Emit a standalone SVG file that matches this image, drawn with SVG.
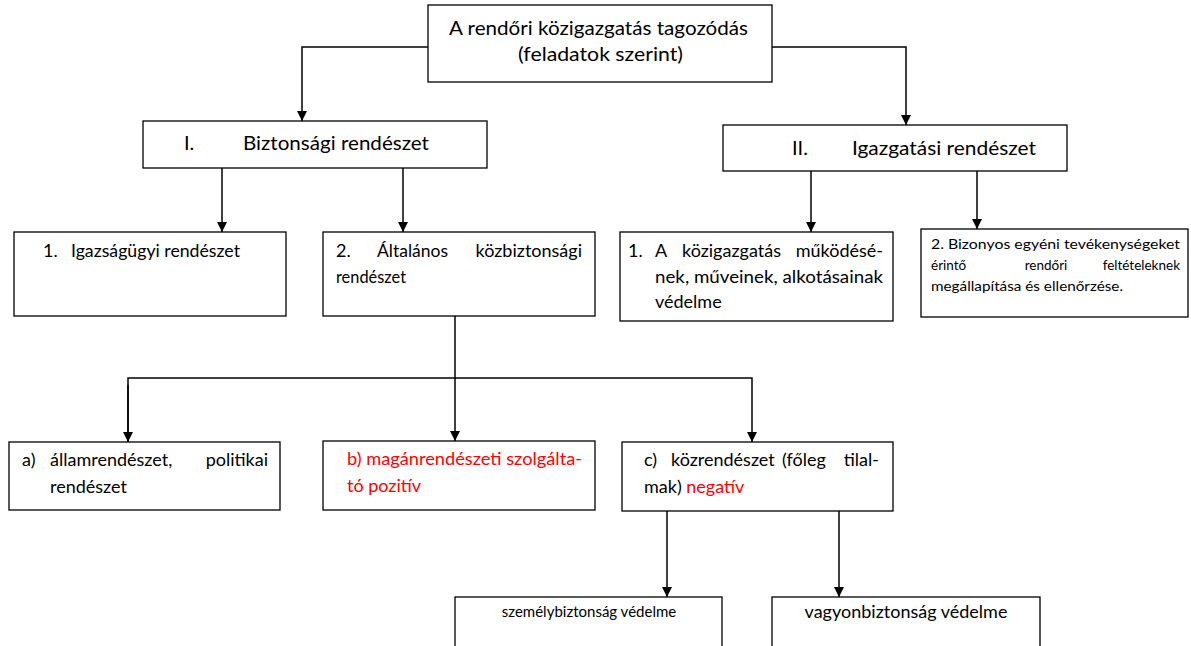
<svg xmlns="http://www.w3.org/2000/svg" width="1191" height="646" viewBox="0 0 1191 646">
<style>
.box{fill:#fff;stroke:#000;stroke-width:1.3}
.t{font-family:Lato,"Open Sans","Liberation Sans",sans-serif;font-size:18px;fill:#000}
.h{font-size:20px}
.s{font-size:13.5px}
.r{fill:#ff0000}
.c{fill:none;stroke:#000;stroke-width:1.5}
</style>
<defs>
<marker id="ah" viewBox="0 0 10 10" refX="10" refY="5" markerWidth="10" markerHeight="10" markerUnits="userSpaceOnUse" orient="auto">
<path d="M0,0 L10,5 L0,10 z" fill="#000"/>
</marker>
</defs>
<rect width="1191" height="646" fill="#fff"/>
<g id="connectors">
<path class="c" d="M428,47 H302 V121" marker-end="url(#ah)"/>
<path class="c" d="M772,47 H906 V125" marker-end="url(#ah)"/>
<path class="c" d="M222,168 V232" marker-end="url(#ah)"/>
<path class="c" d="M403,168 V232" marker-end="url(#ah)"/>
<path class="c" d="M811,171 V232" marker-end="url(#ah)"/>
<path class="c" d="M977,171 V229" marker-end="url(#ah)"/>
<path class="c" d="M455,316 V441" marker-end="url(#ah)"/>
<path class="c" d="M128,442 V378 H752 V442" marker-end="url(#ah)"/>
<path class="c" d="M128,385 V442" marker-end="url(#ah)"/>
<path class="c" d="M667,511 V597" marker-end="url(#ah)"/>
<path class="c" d="M839,511 V597" marker-end="url(#ah)"/>
</g>
<g id="root">
<rect class="box" x="428" y="5" width="344" height="77"/>
<text class="t h" x="449" y="35" textLength="299" lengthAdjust="spacingAndGlyphs">A rendőri közigazgatás tagozódás</text>
<text class="t h" x="518" y="61" textLength="165" lengthAdjust="spacingAndGlyphs">(feladatok szerint)</text>
</g>
<g id="n-biztonsagi">
<rect class="box" x="143" y="121" width="344" height="47"/>
<text class="t h" x="184" y="150">I.</text>
<text class="t h" x="243" y="150" textLength="186" lengthAdjust="spacingAndGlyphs">Biztonsági rendészet</text>
</g>
<g id="n-igazgatasi">
<rect class="box" x="723" y="125" width="344" height="46"/>
<text class="t h" x="792" y="155">II.</text>
<text class="t h" x="852" y="155" textLength="184" lengthAdjust="spacingAndGlyphs">Igazgatási rendészet</text>
</g>
<g id="n-igazsagugyi">
<rect class="box" x="14" y="232" width="272" height="84"/>
<text class="t" x="43" y="257">1.</text>
<text class="t" x="71" y="257" textLength="169" lengthAdjust="spacingAndGlyphs">Igazságügyi rendészet</text>
</g>
<g id="n-altalanos">
<rect class="box" x="323" y="232" width="272" height="84"/>
<text class="t" x="336" y="257">2.</text>
<text class="t" x="377" y="257" textLength="71" lengthAdjust="spacingAndGlyphs">Általános</text>
<text class="t" x="582" y="257" text-anchor="end">közbiztonsági</text>
<text class="t" x="336" y="283" textLength="70" lengthAdjust="spacingAndGlyphs">rendészet</text>
</g>
<g id="n-kozig">
<rect class="box" x="620" y="232" width="273" height="89"/>
<text class="t" x="628" y="257">1.</text>
<text class="t" x="655" y="257">A</text>
<text class="t" x="682" y="257">közigazgatás</text>
<text class="t" x="883" y="257" text-anchor="end">működésé-</text>
<text class="t" x="655" y="283" textLength="228" lengthAdjust="spacingAndGlyphs">nek, műveinek, alkotásainak</text>
<text class="t" x="655" y="308">védelme</text>
</g>
<g id="n-egyeni">
<rect class="box" x="921" y="229" width="267" height="88"/>
<text class="t s" x="931" y="249" textLength="249" lengthAdjust="spacingAndGlyphs">2. Bizonyos egyéni tevékenységeket</text>
<text class="t s" x="931" y="270">érintő</text>
<text class="t s" x="1046" y="270" text-anchor="middle">rendőri</text>
<text class="t s" x="1180" y="270" text-anchor="end">feltételeknek</text>
<text class="t s" x="931" y="291" textLength="192" lengthAdjust="spacingAndGlyphs">megállapítása és ellenőrzése.</text>
</g>
<g id="n-allam">
<rect class="box" x="9" y="442" width="271" height="68"/>
<text class="t" x="22" y="466">a)</text>
<text class="t" x="50" y="466">államrendészet,</text>
<text class="t" x="268" y="466" text-anchor="end">politikai</text>
<text class="t" x="50" y="493">rendészet</text>
</g>
<g id="n-magan">
<rect class="box" x="323" y="441" width="272" height="69"/>
<text class="t r" x="347" y="465" textLength="235" lengthAdjust="spacingAndGlyphs">b) magánrendészeti szolgálta-</text>
<text class="t r" x="347" y="492">tó pozitív</text>
</g>
<g id="n-kozrend">
<rect class="box" x="622" y="442" width="271" height="69"/>
<text class="t" x="644" y="466">c)</text>
<text class="t" x="671" y="466">közrendészet</text>
<text class="t" x="782" y="466">(főleg</text>
<text class="t" x="879" y="466" text-anchor="end">tilal-</text>
<text class="t" x="644" y="493">mak) <tspan class="r">negatív</tspan></text>
</g>
<g id="n-szemely">
<rect class="box" x="455" y="597" width="267" height="60"/>
<text class="t" style="font-size:15px" x="589" y="617" text-anchor="middle">személybiztonság védelme</text>
</g>
<g id="n-vagyon">
<rect class="box" x="772" y="597" width="268" height="60"/>
<text class="t" x="906" y="618" text-anchor="middle">vagyonbiztonság védelme</text>
</g>
</svg>
